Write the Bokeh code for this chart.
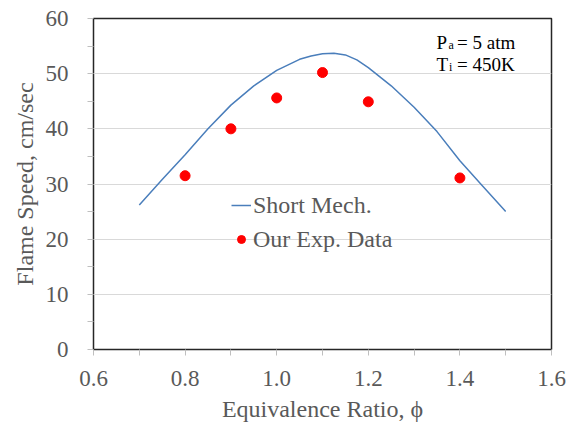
from bokeh.plotting import figure
from bokeh.models import Range1d, FixedTicker, NumeralTickFormatter, Legend, LegendItem, Label
from bokeh.embed import file_html
from bokeh.resources import INLINE

# ---- data ----
phi_sim = [0.70, 0.75, 0.80, 0.85, 0.90, 0.95, 1.00, 1.05, 1.075, 1.10, 1.125, 1.15,
           1.175, 1.20, 1.25, 1.30, 1.35, 1.40, 1.45, 1.50]
s_sim = [26.2, 30.8, 35.3, 40.0, 44.3, 47.8, 50.6, 52.6, 53.2, 53.6, 53.7, 53.4,
         52.5, 51.1, 47.8, 43.9, 39.5, 34.2, 29.6, 25.0]

phi_exp = [0.8, 0.9, 1.0, 1.1, 1.2, 1.4]
s_exp = [31.5, 40.0, 45.6, 50.2, 44.9, 31.1]

x_ticks = [0.6, 0.8, 1.0, 1.2, 1.4, 1.6]
x_minor = [0.7, 0.9, 1.1, 1.3, 1.5]
y_ticks = [0, 10, 20, 30, 40, 50, 60]
y_minor = [5, 15, 25, 35, 45, 55]

FONT = "Liberation Serif"
GRAY = "#595959"

p = figure(width=568, height=426, output_backend="svg", toolbar_location=None,
           x_range=Range1d(0.6, 1.6), y_range=Range1d(0, 60),
           min_border_left=93, min_border_right=17, min_border_top=18, min_border_bottom=77)
p.background_fill_color = "white"
p.border_fill_color = "white"
p.outline_line_color = "#262626"
p.outline_line_width = 1.5

p.xgrid.grid_line_color = None
p.ygrid.grid_line_color = "#d9d9d9"
p.ygrid.grid_line_width = 1

p.xaxis.ticker = FixedTicker(ticks=x_ticks, minor_ticks=x_minor)
p.yaxis.ticker = FixedTicker(ticks=y_ticks, minor_ticks=y_minor)
p.xaxis.formatter = NumeralTickFormatter(format="0.0")

for ax in (p.xaxis[0], p.yaxis[0]):
    ax.axis_line_color = None
    ax.major_tick_line_color = "#bfbfbf"
    ax.minor_tick_line_color = "#bfbfbf"
    ax.major_tick_in = 0
    ax.major_tick_out = 6
    ax.minor_tick_in = 0
    ax.minor_tick_out = 6
    ax.major_label_text_font = "'Liberation Serif', serif"
    ax.major_label_text_font_size = "23px"
    ax.major_label_text_color = GRAY
    ax.axis_label_text_font = FONT
    ax.axis_label_text_font_size = "24px"
    ax.axis_label_text_font_style = "normal"
    ax.axis_label_text_color = GRAY

p.xaxis.axis_label = "Equivalence Ratio, ϕ"
p.yaxis.axis_label = "Flame Speed, cm/sec"
p.xaxis.major_label_standoff = 15
p.xaxis.axis_label_standoff = 7
p.yaxis.major_label_standoff = 19
p.yaxis.axis_label_standoff = 5

r_line = p.line(phi_sim, s_sim, line_color="#4a7ebb", line_width=1.5)
r_pts = p.scatter(phi_exp, s_exp, size=10, fill_color="#ff0000", line_color="#ff0000")

legend = Legend(items=[LegendItem(label="Short Mech.", renderers=[r_line]),
                       LegendItem(label="Our Exp. Data", renderers=[r_pts])],
                location=(138, 96), orientation="vertical",
                border_line_color=None, background_fill_alpha=0,
                label_text_font=FONT, label_text_font_size="24px", label_text_color=GRAY,
                glyph_width=20, glyph_height=28, label_height=28, spacing=6,
                label_standoff=2, padding=0, margin=0)
p.add_layout(legend, "center")

ax0, ay1, ay2 = 1.349, 55.67, 51.72
def lab(x, y, t, size, dx=0, dy=0):
    p.add_layout(Label(x=x, y=y, text=t, x_offset=dx, y_offset=dy,
                       text_font=FONT, text_font_size=size, text_color="black",
                       text_baseline="alphabetic", text_align="left"))

lab(ax0, ay1, "P", "19px")
lab(ax0, ay1, "a", "12px", dx=12, dy=-3)
lab(ax0, ay1, "= 5 atm", "19px", dx=20.5)
lab(ax0, ay2, "T", "19px")
lab(ax0, ay2, "i", "12px", dx=12.5, dy=-3)
lab(ax0, ay2, "= 450K", "19px", dx=20.5)

open("out.html", "w").write(file_html(p, INLINE))
